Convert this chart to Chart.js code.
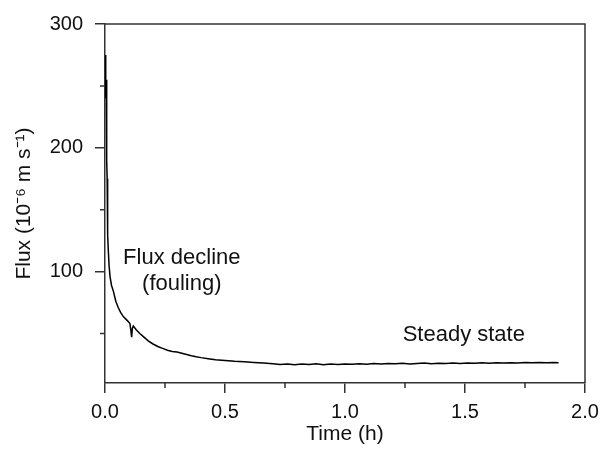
<!DOCTYPE html>
<html>
<head>
<meta charset="utf-8">
<script src="https://cdn.jsdelivr.net/npm/chart.js@4.4.1/dist/chart.umd.min.js"></script>
<style>
    html, body { margin: 0; padding: 0; background: #fff; }
    #wrap { width: 611px; height: 452px; }
</style>
</head>
<body>
<div id="wrap"><canvas id="fluxChart" width="611" height="452"></canvas></div>
<script>
// Flux vs time
const timeH = [
    0.000, 0.002, 0.003, 0.004, 0.005, 0.006, 0.007, 0.008, 0.009, 0.010,
    0.011, 0.012, 0.014, 0.017, 0.021, 0.027, 0.035, 0.045, 0.055, 0.065,
    0.075, 0.085, 0.095, 0.104, 0.108, 0.111, 0.114, 0.118, 0.130, 0.145,
    0.160, 0.180, 0.200, 0.220, 0.240, 0.260, 0.280, 0.300, 0.320, 0.340,
    0.360, 0.380, 0.400, 0.430, 0.460, 0.500, 0.540, 0.580, 0.620, 0.660,
    0.700, 0.730, 0.760, 0.790, 0.820, 0.850, 0.880, 0.910, 0.940, 0.970,
    1.000, 1.030, 1.060, 1.090, 1.120, 1.150, 1.180, 1.210, 1.240, 1.270,
    1.300, 1.330, 1.360, 1.390, 1.420, 1.450, 1.480, 1.510, 1.540, 1.570,
    1.600, 1.630, 1.660, 1.690, 1.720, 1.750, 1.780, 1.810, 1.840, 1.870,
    1.890
];
const fluxVals = [
    275, 262, 270, 240, 255, 225, 210, 190, 175, 160,
    145, 130, 116, 105, 96, 89, 84, 76, 71, 67,
    64, 62, 60, 58, 52, 47, 54, 56, 53, 50,
    47.5, 44, 41.5, 39.5, 38, 36.5, 35.5, 35, 34, 33,
    32, 31.2, 30.5, 29.6, 28.8, 28.1, 27.5, 27.1, 26.6, 26.1,
    25.5, 25.0, 25.3, 24.8, 25.4, 25.0, 25.5, 24.8, 25.3, 25.0,
    25.4, 25.1, 25.6, 25.2, 25.7, 25.3, 25.8, 25.5, 25.9, 25.4,
    25.8, 26.1, 25.6, 26.0, 25.7, 26.1, 25.8, 26.2, 25.9, 26.3,
    26.0, 26.3, 26.1, 26.4, 26.2, 26.5, 26.3, 26.5, 26.4, 26.5,
    26.4
];

// Axis ticks
const xMajorTicks = [0, 0.5, 1.0, 1.5, 2.0];
const xMinorTicks = [0.25, 0.75, 1.25, 1.75];
const yMajorTicks = [100, 200, 300];
const yMinorTicks = [50, 150, 250];

// Text annotations [label, time, flux]
const notes = [
    ['Flux decline', 0.32, 111],
    ['(fouling)', 0.32, 90],
    ['Steady state', 1.495, 49]
];

const AXIS_COLOR = '#333';
const TEXT_COLOR = '#111';
const FONT = 'Liberation Sans, Arial, Helvetica, sans-serif';

const points = timeH.map((t, i) => ({ x: t, y: fluxVals[i] }));

// draws the box frame, minor ticks and the annotations
const framePlugin = {
    id: 'frame',
    afterDraw(chart) {
        const { ctx, chartArea: a, scales } = chart;
        ctx.save();
        ctx.strokeStyle = AXIS_COLOR;
        ctx.lineWidth = 1.5;
        ctx.beginPath();
        ctx.moveTo(a.left, a.top);
        ctx.lineTo(a.right, a.top);
        ctx.lineTo(a.right, a.bottom);
        ctx.stroke();

        ctx.beginPath();
        xMinorTicks.forEach(v => {
            const px = scales.x.getPixelForValue(v);
            ctx.moveTo(px, a.bottom);
            ctx.lineTo(px, a.bottom + 5);
        });
        yMinorTicks.forEach(v => {
            const py = scales.y.getPixelForValue(v);
            ctx.moveTo(a.left, py);
            ctx.lineTo(a.left - 5, py);
        });
        ctx.stroke();

        ctx.fillStyle = TEXT_COLOR;
        ctx.font = '22px ' + FONT;
        ctx.textAlign = 'center';
        ctx.textBaseline = 'middle';
        notes.forEach(([label, t, f]) => {
            ctx.fillText(label, scales.x.getPixelForValue(t), scales.y.getPixelForValue(f));
        });
        ctx.restore();
    }
};

const ctx = document.getElementById('fluxChart').getContext('2d');
new Chart(ctx, {
    type: 'line',
    data: {
        datasets: [{
            data: points,
            borderColor: '#000',
            borderWidth: 1.5,
            pointRadius: 0,
            tension: 0,
            fill: false
        }]
    },
    options: {
        responsive: false,
        animation: false,
        layout: {
            padding: { top: 21, right: 26, left: 0, bottom: 0 }
        },
        plugins: {
            legend: { display: false },
            tooltip: { enabled: false }
        },
        scales: {
            x: {
                type: 'linear',
                min: 0,
                max: 2,
                afterBuildTicks: (axis) => {
                    axis.ticks = xMajorTicks.map(v => ({ value: v }));
                },
                afterFit: (axis) => { axis.height = 69; },
                grid: {
                    drawOnChartArea: false,
                    drawTicks: true,
                    tickLength: 10,
                    color: AXIS_COLOR,
                    lineWidth: 1.5
                },
                border: { color: AXIS_COLOR, width: 1.5 },
                ticks: {
                    maxRotation: 0,
                    padding: 7,
                    color: TEXT_COLOR,
                    font: { family: FONT, size: 20 },
                    callback: (value) => Number(value).toFixed(1)
                },
                title: {
                    display: true,
                    text: 'Time (h)',
                    color: TEXT_COLOR,
                    font: { family: FONT, size: 21 },
                    padding: { top: 5, bottom: 5 }
                }
            },
            y: {
                min: 10,
                max: 300,
                afterBuildTicks: (axis) => {
                    axis.ticks = yMajorTicks.map(v => ({ value: v }));
                },
                afterFit: (axis) => { axis.width = 105; },
                grid: {
                    drawOnChartArea: false,
                    drawTicks: true,
                    tickLength: 10,
                    color: AXIS_COLOR,
                    lineWidth: 1.5
                },
                border: { color: AXIS_COLOR, width: 1.5 },
                ticks: {
                    padding: 12,
                    color: TEXT_COLOR,
                    font: { family: FONT, size: 20 }
                },
                title: {
                    display: true,
                    text: 'Flux (10⁻⁶ m s⁻¹)',
                    color: TEXT_COLOR,
                    font: { family: FONT, size: 21 },
                    padding: { top: 12, bottom: 0 }
                }
            }
        }
    },
    plugins: [framePlugin]
});
</script>
</body>
</html>
